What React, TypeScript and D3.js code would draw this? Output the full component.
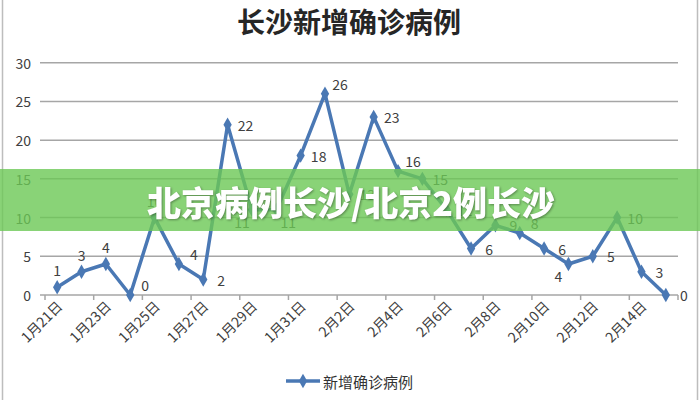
import React from "react";
import * as d3 from "d3";

const title = "长沙新增确诊病例";
const seriesName = "新增确诊病例";
const bannerText = "北京病例长沙/北京2例长沙";

const dates = [
  "1月21日", "1月22日", "1月23日", "1月24日", "1月25日", "1月26日", "1月27日",
  "1月28日", "1月29日", "1月30日", "1月31日", "2月1日", "2月2日", "2月3日",
  "2月4日", "2月5日", "2月6日", "2月7日", "2月8日", "2月9日", "2月10日",
  "2月11日", "2月12日", "2月13日", "2月14日", "2月15日",
];

const cases = [1, 3, 4, 0, 10, 4, 2, 22, 11, 11, 18, 26, 13, 23, 16, 15, 11, 6, 9, 8, 6, 4, 5, 10, 3, 0];

const labelPlacement = [
  "n", "n", "n", "ne", "n", "ne", "e", "e", "sw", "se", "e", "ne", "e",
  "e", "ne", "e", "e", "e", "e", "ne", "e", "sw", "e", "e", "e", "e",
];

const yTicks = [0, 5, 10, 15, 20, 25, 30];

const W = 700;
const H = 400;
const CJK = '"Noto Sans CJK SC", "Noto Sans", sans-serif';
const LINE = "#4a78b4";

const offsets: Record<string, [number, number]> = {
  n: [0, -17],
  e: [18, 0],
  ne: [15, -10],
  sw: [-10, 12],
  se: [12, 12],
};

export default function App() {
  const x = d3.scaleBand<string>().domain(dates).range([45, 678]).padding(0);
  const y = d3.scaleLinear().domain([0, 30]).range([295, 62.7]);
  const cx = (d: string) => (x(d) as number) + x.bandwidth() / 2;

  const line = d3
    .line<number>()
    .x((_, i) => cx(dates[i]))
    .y((v) => y(v));

  const diamond = d3.symbol().type(d3.symbolDiamond).size(60)() as string;

  const tickBounds = dates
    .map((d, i) => (i % 2 === 0 ? (x(d) as number) : null))
    .filter((v) => v !== null) as number[];
  tickBounds.push(678);

  return (
    <svg
      width={W}
      height={H}
      style={{ position: "absolute", left: 0, top: 0, background: "#fff" }}
    >
      <rect x={0} y={0} width={W} height={H} fill="#fff" />
      <line x1={2.5} x2={2.5} y1={0} y2={H} stroke="#bdbdbd" strokeWidth={1.5} />
      <line x1={697.5} x2={697.5} y1={0} y2={H} stroke="#bdbdbd" strokeWidth={1.5} />

      <text
        x={349}
        y={33}
        textAnchor="middle"
        fontFamily={CJK}
        fontWeight={700}
        fontSize={28}
        fill="#262626"
      >
        {title}
      </text>

      {yTicks.map((t) => (
        <g key={t}>
          <line x1={40} x2={678} y1={y(t)} y2={y(t)} stroke="#a6a6a6" strokeWidth={1.5} />
          <text
            x={31}
            y={y(t)}
            textAnchor="end"
            dominantBaseline="central"
            fontFamily={CJK}
            fontSize={14}
            fill="#404040"
          >
            {t}
          </text>
        </g>
      ))}

      {tickBounds.map((b, i) => (
        <line key={i} x1={b} x2={b} y1={295} y2={300} stroke="#a6a6a6" strokeWidth={1.5} />
      ))}

      {dates.map((d, i) =>
        i % 2 === 0 ? (
          <text
            key={d}
            transform={`translate(${cx(d) + 2},${303}) rotate(-45)`}
            textAnchor="end"
            dominantBaseline="central"
            fontFamily={CJK}
            fontSize={14}
            fill="#404040"
          >
            {d}
          </text>
        ) : null
      )}

      <path d={line(cases) as string} fill="none" stroke={LINE} strokeWidth={3.5} strokeLinejoin="round" />
      {cases.map((v, i) => (
        <path key={i} d={diamond} transform={`translate(${cx(dates[i])},${y(v)})`} fill={LINE} />
      ))}

      {cases.map((v, i) => {
        const [dx, dy] = offsets[labelPlacement[i]];
        return (
          <text
            key={i}
            x={cx(dates[i]) + dx}
            y={y(v) + dy}
            textAnchor="middle"
            dominantBaseline="central"
            fontFamily={CJK}
            fontSize={14}
            fill="#404040"
          >
            {v}
          </text>
        );
      })}

      <g>
        <line x1={286} x2={320} y1={381} y2={381} stroke={LINE} strokeWidth={3.5} />
        <path d={diamond} transform="translate(303,381)" fill={LINE} />
        <text
          x={323}
          y={381}
          dominantBaseline="central"
          fontFamily={CJK}
          fontSize={15}
          fill="#333"
        >
          {seriesName}
        </text>
      </g>

      <rect x={0} y={169} width={W} height={62} fill="#6cc855" fillOpacity={0.8} />
      <text
        x={351}
        y={201}
        textAnchor="middle"
        dominantBaseline="central"
        fontFamily={CJK}
        fontWeight={900}
        fontSize={34}
        fill="#fff"
        style={{ filter: "drop-shadow(1px 1px 1px rgba(0,0,0,0.35))" }}
      >
        {bannerText}
      </text>
    </svg>
  );
}
